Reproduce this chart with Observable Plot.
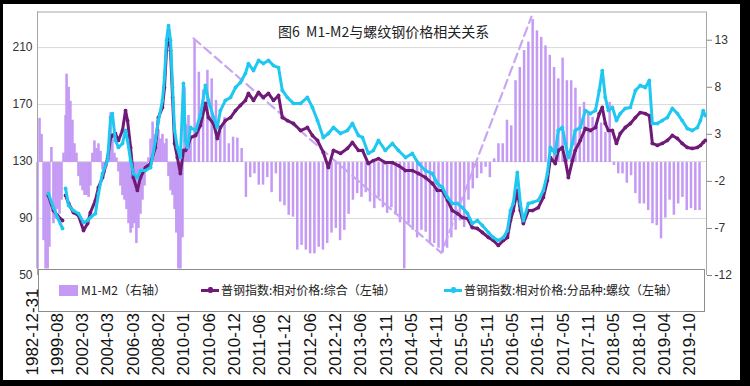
<!DOCTYPE html>
<html><head><meta charset="utf-8">
<script src="https://cdn.jsdelivr.net/npm/d3@7"></script>
<script src="https://cdn.jsdelivr.net/npm/@observablehq/plot@0.6"></script>
<style>
body{margin:0;background:#000;}
#wrap{position:relative;width:750px;height:386px;background:#000;overflow:hidden;font-family:"Noto Sans CJK SC","Liberation Sans",sans-serif;}
#paper{position:absolute;left:3px;top:4px;width:737px;height:376px;background:#fff;}
#legend{position:absolute;left:38px;top:269px;width:667px;height:43px;border:1px solid #8c8c8c;box-sizing:border-box;background:#fff;font-size:12px;color:#222;}
#legend .it{position:absolute;top:12px;height:16px;line-height:16px;white-space:nowrap;}
#chart{position:absolute;left:0;top:0;}
#title{position:absolute;left:278px;top:23px;font-size:14px;line-height:16px;color:#222;white-space:pre;}
</style></head>
<body>
<div id="wrap">
  <div id="paper"></div>
  <div id="legend">
    <div class="it" style="left:20px;"><span style="display:inline-block;width:19px;height:11px;background:#c49af4;vertical-align:-1px;margin-right:3px;"></span>M1-M2（右轴）</div>
    <div class="it" style="left:162px;"><span style="display:inline-block;position:relative;width:18px;height:16px;vertical-align:top;margin-right:2px;"><span style="position:absolute;left:0;top:7px;width:18px;height:2.5px;background:#701a78;"></span><span style="position:absolute;left:7px;top:5px;width:5px;height:6px;background:#701a78;border-radius:2px;"></span></span>普钢指数:相对价格:综合（左轴）</div>
    <div class="it" style="left:405px;"><span style="display:inline-block;position:relative;width:18px;height:16px;vertical-align:top;margin-right:2px;"><span style="position:absolute;left:0;top:7px;width:18px;height:2.5px;background:#1ec8f0;"></span><span style="position:absolute;left:7px;top:5px;width:5px;height:6px;background:#1ec8f0;border-radius:2px;"></span></span>普钢指数:相对价格:分品种:螺纹（左轴）</div>
  </div>
  <div id="chart"></div>
  <div id="title">图6  M1-M2与螺纹钢价格相关关系</div>
</div>
<script>
// ---------- data ----------
const xLabels = ["1982-12-31","1999-08","2002-03","2004-03","2006-03","2008-02","2010-01","2010-06","2010-12","2011-06","2011-12","2012-06","2012-12","2013-06","2013-11","2014-05","2014-11","2015-05","2015-11","2016-05","2016-11","2017-05","2017-11","2018-05","2018-10","2019-04","2019-10"];
const leftTicks = [50, 90, 130, 170, 210];
const rightTicks = [-12, -7, -2, 3, 8, 13];
const leftDomain = [50, 235];
const rightDomain = [-12, 16];

// category position (in x-label units) of each index sample
const lineX = [0.43,0.63,0.79,0.99,1.05,1.11,1.23,1.42,1.62,1.82,1.98,2.09,2.29,2.41,2.57,2.77,2.89,2.96,3.08,3.20,3.36,3.48,3.56,3.68,3.79,3.95,4.07,4.27,4.47,4.66,4.78,4.94,5.02,5.10,5.18,5.26,5.34,5.42,5.53,5.65,5.77,5.85,5.93,6.05,6.25,6.44,6.64,6.76,6.96,7.11,7.23,7.43,7.63,7.83,8.02,8.22,8.34,8.54,8.74,8.93,9.13,9.33,9.53,9.68,9.88,10.12,10.40,10.67,10.87,11.07,11.30,11.50,11.70,11.98,12.25,12.45,12.69,12.85,13.08,13.28,13.48,13.75,14.03,14.27,14.55,14.82,15.06,15.34,15.61,15.81,16.01,16.21,16.40,16.60,16.80,17.00,17.19,17.39,17.59,17.83,18.02,18.22,18.42,18.58,18.70,18.81,18.97,19.09,19.21,19.41,19.57,19.80,20.00,20.16,20.28,20.47,20.59,20.75,20.87,20.99,21.15,21.26,21.46,21.66,21.86,22.06,22.21,22.33,22.45,22.57,22.73,22.89,23.04,23.24,23.44,23.64,23.83,24.03,24.19,24.31,24.51,24.70,24.90,25.10,25.30,25.49,25.69,25.89,26.09,26.21,26.32,26.40];

// 普钢指数:相对价格:综合 (left axis)
const zonghe = [106.2,95.6,92.1,88.6,null,106.2,100.6,94.2,92.1,81.6,86.5,94.2,102.7,111.8,118.8,132.1,146.9,148.3,149.7,144.8,151.8,165.8,158.8,139.9,118.8,109.7,118.8,125.8,128.6,139.9,160.9,168.0,182.0,208.0,222.0,208.0,175.0,142.7,132.8,121.6,137.8,137.8,139.9,146.9,148.3,155.3,170.8,160.9,156.7,146.2,153.9,158.8,160.9,165.8,169.4,172.9,177.8,172.9,178.5,175.0,177.8,172.9,176.4,160.9,158.8,156.7,151.8,153.9,148.3,144.8,136.4,125.8,137.8,135.7,139.2,143.4,137.8,137.8,128.6,130.7,132.1,129.3,129.3,127.2,123.7,123.7,121.6,118.8,114.6,109.7,109.7,102.7,95.6,93.5,90.7,90.0,83.7,83.0,80.2,76.7,74.6,71.1,74.6,76.7,88.6,95.6,109.7,95.6,86.5,95.6,95.6,97.7,104.8,116.7,132.8,128.6,137.8,139.9,130.7,118.8,130.7,137.8,144.8,153.2,151.8,153.9,163.7,168.0,156.7,151.8,151.8,142.7,149.7,153.9,156.7,160.9,164.4,163.7,162.3,142.7,141.3,142.7,144.8,148.3,146.2,142.7,139.9,139.2,139.9,141.3,143.4,144.8];

// 普钢指数:相对价格:分品种:螺纹 (left axis)
const luowen = [107.6,97.7,90.7,83.0,null,111.1,99.1,95.6,93.5,87.2,88.6,90.7,93.5,107.6,121.6,130.7,160.9,163.7,144.8,139.9,142.7,151.8,144.8,130.7,121.6,118.8,123.7,123.7,125.8,144.8,158.8,172.9,189.0,215.0,225.5,215.0,182.0,151.8,139.9,132.8,184.8,144.8,139.9,153.9,151.8,162.3,183.4,172.9,160.9,153.9,165.8,172.9,175.0,182.0,185.5,191.8,198.8,193.9,201.0,198.8,201.0,197.4,196.0,179.9,175.0,170.8,170.8,175.0,168.0,158.8,146.9,149.7,153.9,149.7,151.8,156.7,148.3,146.9,135.7,137.8,144.8,137.8,142.7,137.8,132.8,135.7,128.6,123.7,121.6,114.6,111.8,104.8,100.6,100.6,97.7,93.5,86.5,88.6,85.1,80.2,76.7,74.6,76.7,81.6,95.6,100.6,122.3,100.6,88.6,100.6,101.3,102.7,109.7,121.6,139.9,135.7,151.8,153.9,142.7,132.8,142.7,151.8,153.9,165.8,163.7,165.8,179.9,193.9,175.0,165.8,168.0,158.8,163.7,167.3,168.0,179.9,183.4,182.0,186.9,156.7,156.7,158.8,160.9,167.3,163.7,158.8,153.2,151.8,153.9,158.8,165.8,162.3];

// M1-M2 (right axis), dense early section
const m2EarlyX = [0.00,0.08,0.16,0.24,0.32,0.40,0.47,0.55,0.63,0.71,0.79,0.87,0.95,1.03,1.11,1.15,1.23,1.30,1.38,1.46,1.54,1.62,1.70,1.78,1.86,1.94,2.02,2.09,2.17,2.25,2.33,2.41,2.49,2.57,2.65,2.73,2.81,2.89,2.96,3.04,3.12,3.20,3.28,3.36,3.44,3.52,3.60,3.68,3.75,3.83,3.91,3.99,4.07,4.15,4.23,4.31,4.39,4.47,4.55,4.62,4.70,4.78,4.86,4.94,5.02,5.10,5.18,5.26,5.34,5.42,5.49,5.57,5.65,5.73,5.81,5.89,5.97,6.05];
const m2Early = [-11.3,4.7,3.0,-8.3,-11.3,-11.3,-9.0,1.6,-6.5,-6.0,-5.0,-5.5,-4.0,1.0,5.0,9.4,8.0,6.5,4.5,2.0,1.0,-1.5,-2.5,-3.0,-3.5,-3.5,-3.7,-2.5,1.0,2.3,1.5,2.0,1.2,-0.8,-1.2,-0.5,1.5,5.3,3.0,1.0,0.5,-1.0,-2.5,-3.5,-4.0,-5.0,-6.5,-7.5,-7.0,-6.5,-8.6,-7.0,-5.5,-4.0,-2.5,-0.5,0.5,2.5,4.3,3.0,2.0,3.5,2.5,3.0,2.0,2.5,-1.5,-3.0,-3.5,-5.0,-7.5,-11.3,-11.3,-8.0,8.0,4.0,5.0,2.5];

// M1-M2 (right axis), monthly from 2010-01
const m2Monthly = [13.0,9.6,7.7,9.8,8.9,6.6,3.4,4.8,2.0,2.7,2.6,1.5,-3.7,-1.6,-1.2,-2.4,-2.4,-1.6,-3.2,-1.2,-4.2,-4.6,-5.6,-5.8,-9.3,-8.8,-9.3,-9.7,-9.7,-9.0,-9.3,-8.6,-7.5,-7.0,-8.3,-7.2,-5.5,-4.0,-3.3,-3.7,-3.2,-4.2,-4.9,-3.7,-4.8,-5.4,-4.8,-5.6,-6.4,-11.3,-6.5,-7.2,-8.0,-7.2,-7.4,-8.6,-8.6,-9.1,-9.6,-9.1,-8.0,-7.2,-6.2,-6.9,-4.0,-2.8,-1.7,-1.2,-0.5,-1.6,0.4,2.0,2.0,4.5,3.9,8.7,10.1,11.9,12.8,15.2,14.0,13.3,12.4,11.4,10.1,8.9,11.1,8.7,8.7,7.9,5.9,6.4,5.3,4.8,3.9,4.2,3.2,6.4,-0.3,-1.2,-1.2,-2.2,-1.4,-3.3,-4.4,-4.4,-5.1,-6.5,-6.7,-8.1,-5.9,-4.0,-5.6,-4.4,-3.7,-5.1,-4.9,-5.1,-5.1];
const m2MonthStart = 6.21;   // category position of the 2010-01 bar
const m2MonthStep = 0.1692;  // category units per month

// dashed trend line (right axis units)
const trendX = [6.17, 15.97, 19.53];
const trendM = [13.2, -9.6, 15.5];

// ---------- build ----------
const toLeft = r => leftDomain[0] + (r - rightDomain[0]) * (leftDomain[1] - leftDomain[0]) / (rightDomain[1] - rightDomain[0]);
const fromLeft = v => rightDomain[0] + (v - leftDomain[0]) * (rightDomain[1] - rightDomain[0]) / (leftDomain[1] - leftDomain[0]);
const zeroL = toLeft(0);
const xMax = 26.45;

const lines = lineX.map((t, i) => ({t, zonghe: zonghe[i], luowen: luowen[i]}));
const early = m2EarlyX.map((t, i) => ({t, m: m2Early[i]}));
const monthly = m2Monthly.map((m, i) => ({t: m2MonthStart + i * m2MonthStep, m}));
const trend = trendX.map((t, i) => ({t, m: trendM[i]}));

const barColor = "#c49af4";
const purple = "#701a78";
const cyan = "#1ec8f0";
const frameColor = "#a6a6a6";

const chart = Plot.plot({
  width: 750, height: 386,
  marginLeft: 37, marginRight: 44, marginTop: 11.5, marginBottom: 111,
  style: {background: "transparent", fontFamily: "'Liberation Sans', Arial, sans-serif"},
  x: {type: "linear", domain: [0, xMax], axis: null, nice: false},
  y: {type: "linear", domain: leftDomain, axis: null, nice: false},
  marks: [
    Plot.ruleY(leftTicks.slice(1), {stroke: "#d9d9d9", strokeWidth: 1}),
    Plot.ruleY([leftDomain[1]], {stroke: frameColor}),
    Plot.ruleX(early, {x: "t", y1: zeroL, y2: d => toLeft(d.m), stroke: barColor, strokeWidth: 2.6}),
    Plot.ruleX(monthly, {x: "t", y1: zeroL, y2: d => toLeft(d.m), stroke: barColor, strokeWidth: 2.5}),
    Plot.line(trend, {x: "t", y: d => toLeft(d.m), stroke: "#c9a6f2", strokeWidth: 2.2, strokeDasharray: "9,5"}),
    Plot.ruleX([0, xMax], {y1: leftDomain[0], y2: leftDomain[1], stroke: frameColor}),
    Plot.line(lines, {x: "t", y: "zonghe", stroke: purple, strokeWidth: 3}),
    Plot.dot(lines, {x: "t", y: "zonghe", r: 1.9, fill: purple}),
    Plot.line(lines, {x: "t", y: "luowen", stroke: cyan, strokeWidth: 3}),
    Plot.dot(lines, {x: "t", y: "luowen", r: 1.9, fill: cyan}),
    Plot.axisY(leftTicks, {anchor: "left", tickSize: 0, tickPadding: 5, fontSize: 12, fill: "#333", label: null}),
    Plot.axisY(rightTicks.map(toLeft), {anchor: "right", tickSize: 5, tickPadding: 3, fontSize: 12, fill: "#333", stroke: "#888", label: null,
      tickFormat: d => String(Math.round(fromLeft(d)))}),
    Plot.text(xLabels, {x: (d, i) => i, frameAnchor: "bottom", dy: 100, rotate: -90, textAnchor: "start", fontSize: 17, fill: "#111"})
  ]
});
document.getElementById("chart").appendChild(chart);
</script>
</body></html>
